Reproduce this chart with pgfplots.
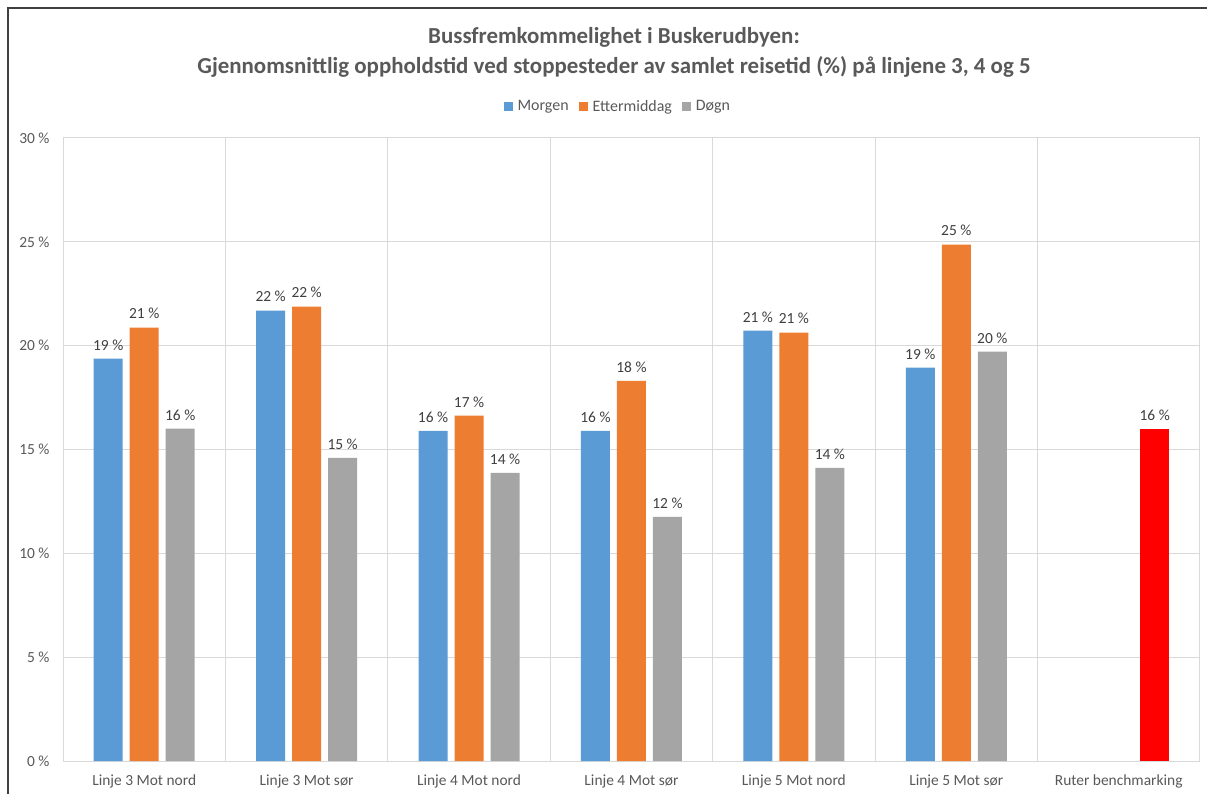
\documentclass[border=0pt]{standalone}
\usepackage{fontspec}
\setmainfont{Carlito}
\usepackage{pgfplots}
\pgfplotsset{compat=1.18}

\definecolor{cMorgen}{HTML}{5B9BD5}
\definecolor{cEttermiddag}{HTML}{ED7D31}
\definecolor{cDogn}{HTML}{A5A5A5}
\definecolor{cRuter}{HTML}{FF0000}
\definecolor{gridgray}{HTML}{D9D9D9}
\definecolor{textgray}{HTML}{595959}
\definecolor{labelgray}{HTML}{404040}
\definecolor{framegray}{HTML}{404040}

\begin{document}
\begin{tikzpicture}
\path[use as bounding box] (0,0) rectangle (1207bp,794bp);
\fill[white] (0,0) rectangle (1207bp,794bp);
\draw[line width=1.5bp, color=framegray] (8bp,0) -- (8bp,786bp) -- (1207bp,786bp);

\node[font=\bfseries\fontsize{23}{27}\selectfont, text=textgray] at (614bp,757bp)
  {Bussfremkommelighet i Buskerudbyen:};
\node[font=\bfseries\fontsize{23}{27}\selectfont, text=textgray] at (614bp,727bp)
  {Gjennomsnittlig oppholdstid ved stoppesteder av samlet reisetid (\%) på linjene 3, 4 og 5};

\begin{axis}[
  scale only axis,
  width=1137bp, height=623bp,
  anchor=south west, at={(63bp,33bp)},
  xmin=-0.5, xmax=6.5, ymin=0, ymax=30,
  ybar, bar width=0.1786,
  /pgf/number format/assume math mode=true,
  xtick={0,...,6},
  xticklabels={Linje 3 Mot nord, Linje 3 Mot sør, Linje 4 Mot nord, Linje 4 Mot sør,
               Linje 5 Mot nord, Linje 5 Mot sør, Ruter benchmarking},
  minor xtick={-0.5,0.5,...,6.5},
  xminorgrids,
  ytick={0,5,...,30},
  yticklabel={\pgfmathprintnumber{\tick}~\%},
  ymajorgrids,
  major grid style={gridgray, line width=1bp},
  minor grid style={gridgray, line width=1bp},
  axis line style={gridgray, line width=1bp},
  major tick length=0pt, minor tick length=0pt,
  tick label style={font=\fontsize{15.5}{18}\selectfont, text=textgray},
  xticklabel style={yshift=-10bp},
  yticklabel style={xshift=-10bp},
  nodes near coords={\pgfmathprintnumber[fixed,precision=0]{\pgfplotspointmeta}~\%},
  nodes near coords style={font=\fontsize{15.5}{18}\selectfont, text=labelgray, yshift=5bp},
  legend columns=3,
  legend style={draw=none, fill=none, at={(0.488,1.051)}, anchor=center,
    font=\fontsize{16}{18}\selectfont, text=textgray,
    /tikz/every even column/.append style={column sep=8bp}},
  legend image code/.code={\fill[#1] (0bp,-4.5bp) rectangle (9bp,4.5bp); \path (12bp,0bp);},
]
\addplot[fill=cMorgen, draw=none, bar shift=-0.2217] coordinates
  {(0,19.37) (1,21.69) (2,15.90) (3,15.90) (4,20.72) (5,18.94)};
\addlegendentry{Morgen}
\addplot[fill=cEttermiddag, draw=none, bar shift=0] coordinates
  {(0,20.87) (1,21.88) (2,16.63) (3,18.31) (4,20.63) (5,24.87)};
\addlegendentry{Ettermiddag}
\addplot[fill=cDogn, draw=none, bar shift=0.2217] coordinates
  {(0,16.00) (1,14.60) (2,13.88) (3,11.76) (4,14.12) (5,19.71)};
\addlegendentry{Døgn}
\addplot[fill=cRuter, draw=none, bar shift=0.2217, forget plot] coordinates
  {(6,16.00)};
\end{axis}
\end{tikzpicture}
\end{document}
